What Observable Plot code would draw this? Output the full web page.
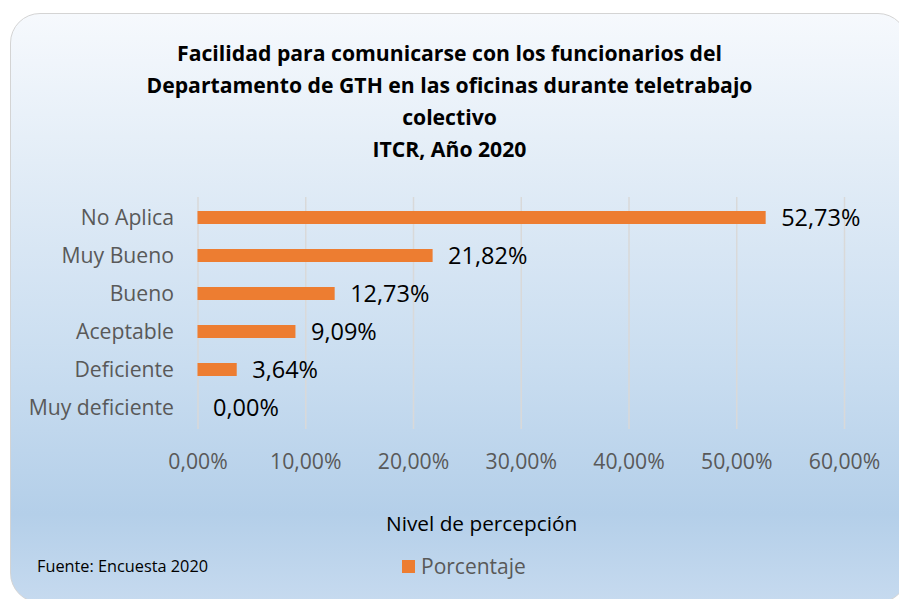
<!DOCTYPE html>
<html>
<head>
<meta charset="utf-8">
<script src="https://cdn.jsdelivr.net/npm/d3@7"></script>
<script src="https://cdn.jsdelivr.net/npm/@observablehq/plot@0.6"></script>
<style>
  html, body { margin: 0; padding: 0; background: #ffffff; }
  #wrap { position: relative; width: 899px; height: 599px; overflow: hidden; font-family: "Open Sans", "Noto Sans", sans-serif; }
  #panel { position: absolute; left: 10px; top: 13px; width: 896px; height: 588px; border: 1px solid #d4d4d4; border-radius: 30px;
    background: linear-gradient(to bottom, #f6f9fd 0%, #e3edf7 25%, #c9ddf0 60%, #b4cfe9 85%, #c6daef 100%); }
  #title { position: absolute; left: 0; width: 899px; top: 37px; text-align: center; font-weight: bold; font-size: 21.2px; line-height: 32px; color: #000; }
  #chart { position: absolute; left: 0; top: 180px; }
  #xlabel { position: absolute; left: 386px; top: 508px; font-size: 20.8px; line-height: 30px; color: #000; white-space: nowrap; }
  #source { position: absolute; left: 37px; top: 554px; font-size: 16.3px; line-height: 24px; color: #000; white-space: nowrap; }
  #legend { position: absolute; left: 402px; top: 551px; font-size: 21px; line-height: 30px; color: #595959; display: flex; align-items: center; white-space: nowrap; }
  #legend .sw { width: 13px; height: 13px; background: #ED7D31; margin-right: 6px; }
</style>
</head>
<body>
<div id="wrap">
  <div id="panel"></div>
  <div id="title">Facilidad para comunicarse con los funcionarios del<br>Departamento de GTH en las oficinas durante teletrabajo<br>colectivo<br>ITCR, Año 2020</div>
  <div id="chart"></div>
  <div id="xlabel">Nivel de percepción</div>
  <div id="source">Fuente: Encuesta 2020</div>
  <div id="legend"><span class="sw"></span><span>Porcentaje</span></div>
</div>
<script>
const categories = ["No Aplica", "Muy Bueno", "Bueno", "Aceptable", "Deficiente", "Muy deficiente"];
const values = [52.73, 21.82, 12.73, 9.09, 3.64, 0.00];
const xTicks = [0, 10, 20, 30, 40, 50, 60];
const seriesName = "Porcentaje";

const data = categories.map((c, i) => ({ category: c, value: values[i], series: seriesName }));
const fmt = v => v.toFixed(2).replace(".", ",") + "%";

const chart = Plot.plot({
  width: 899,
  height: 320,
  marginLeft: 197.5,
  marginRight: 55,
  marginTop: 17,
  marginBottom: 71,
  style: { background: "transparent", fontFamily: "'Open Sans', 'Noto Sans', sans-serif" },
  x: { domain: [0, 60], ticks: xTicks, tickFormat: fmt, label: null },
  y: { domain: categories, paddingInner: 0.65, paddingOuter: 0.325, label: null },
  marks: [
    Plot.gridX(xTicks, { stroke: "#d9d9d9", strokeOpacity: 1, strokeWidth: 1.5 }),
    Plot.barX(data, { x: "value", y: "category", fill: "#ED7D31" }),
    Plot.text(data, { x: "value", y: "category", text: d => fmt(d.value), textAnchor: "start", dx: 15, fontSize: 23.5, fill: "#000" }),
    Plot.axisX({ ticks: xTicks, tickFormat: fmt, tickSize: 0, tickPadding: 24, fontSize: 21.2, fill: "#595959", label: null }),
    Plot.axisY({ tickSize: 0, tickPadding: 24, fontSize: 21.2, fill: "#595959", label: null })
  ]
});
document.getElementById("chart").appendChild(chart);
</script>
</body>
</html>
